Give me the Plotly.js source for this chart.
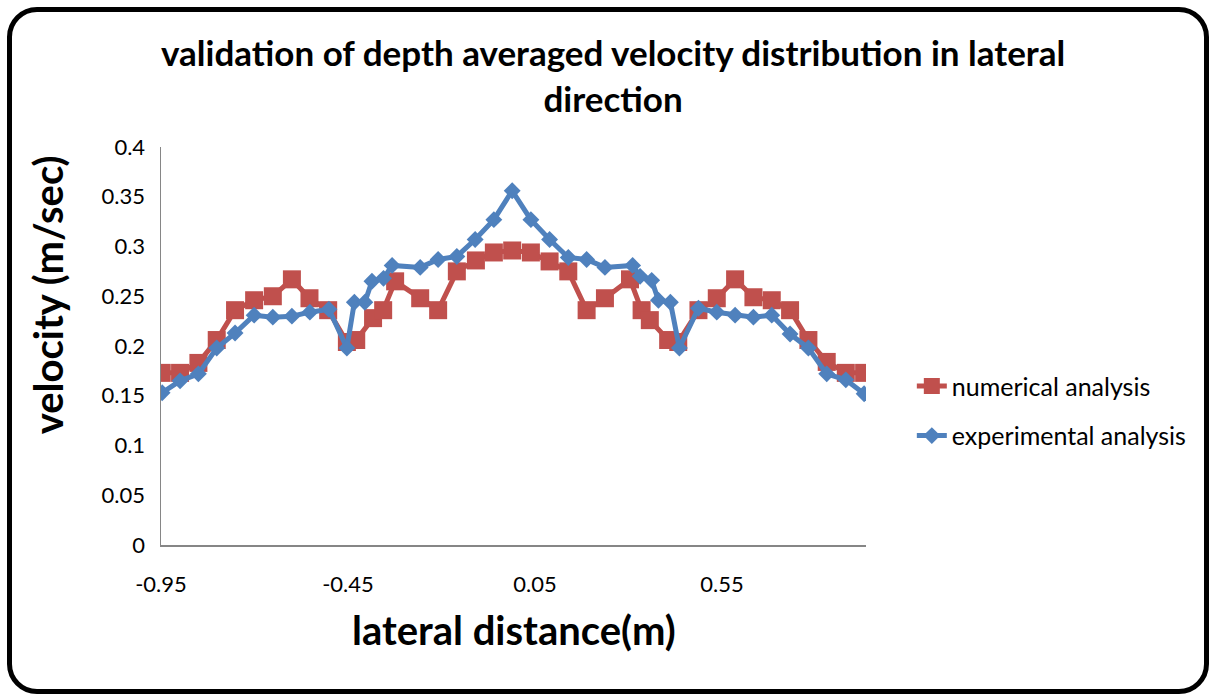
<!DOCTYPE html>
<html>
<head>
<meta charset="utf-8">
<script src="https://cdn.plot.ly/plotly-3.0.1.min.js"></script>
<style>
  html, body { margin:0; padding:0; background:#fff; }
  #chart { width:1214px; height:695px; position:absolute; left:0; top:0; }
  #frame { position:absolute; left:7px; top:7px; width:1192px; height:677px;
           border:5px solid #000; border-radius:30px; pointer-events:none; }
</style>
</head>
<body>
<div id="chart"></div>
<div id="frame"></div>
<script>
// Numerical analysis (red squares)
const numX = [-0.948, -0.899, -0.850, -0.801, -0.752, -0.701, -0.651, -0.600, -0.553, -0.503,
              -0.453, -0.428, -0.383, -0.356, -0.324, -0.257, -0.209, -0.159, -0.108, -0.060,
              -0.011, 0.039, 0.089, 0.139, 0.188, 0.237, 0.304, 0.335, 0.357, 0.406,
              0.433, 0.487, 0.536, 0.585, 0.634, 0.683, 0.732, 0.781, 0.830, 0.881, 0.930];
const numY = [0.173, 0.173, 0.183, 0.206, 0.236, 0.246, 0.250, 0.267, 0.248, 0.236,
              0.204, 0.206, 0.228, 0.236, 0.265, 0.248, 0.236, 0.275, 0.286, 0.294,
              0.296, 0.294, 0.285, 0.275, 0.236, 0.248, 0.267, 0.236, 0.226, 0.206,
              0.204, 0.236, 0.248, 0.267, 0.249, 0.246, 0.236, 0.206, 0.184, 0.173, 0.173];

// Experimental analysis (blue diamonds)
const expX = [-0.947, -0.899, -0.850, -0.801, -0.752, -0.701, -0.651, -0.600, -0.552, -0.501,
              -0.453, -0.433, -0.405, -0.386, -0.355, -0.332, -0.257, -0.209, -0.159, -0.110,
              -0.060, -0.011, 0.039, 0.089, 0.139, 0.188, 0.237, 0.311, 0.331, 0.362,
              0.380, 0.412, 0.436, 0.487, 0.536, 0.585, 0.634, 0.683, 0.732, 0.781,
              0.830, 0.881, 0.930];
const expY = [0.153, 0.165, 0.172, 0.198, 0.213, 0.231, 0.229, 0.230, 0.234, 0.237,
              0.198, 0.244, 0.244, 0.265, 0.268, 0.281, 0.279, 0.287, 0.290, 0.307,
              0.327, 0.356, 0.327, 0.307, 0.289, 0.287, 0.279, 0.281, 0.270, 0.266,
              0.246, 0.244, 0.198, 0.238, 0.234, 0.231, 0.229, 0.231, 0.212, 0.198,
              0.172, 0.166, 0.152];

const xTicks = [-0.95, -0.45, 0.05, 0.55];
const xTickText = ['-0.95', '-0.45', '0.05', '0.55'];
const yTicks = [0, 0.05, 0.1, 0.15, 0.2, 0.25, 0.3, 0.35, 0.4];
const yTickText = ['0', '0.05', '0.1', '0.15', '0.2', '0.25', '0.3', '0.35', '0.4'];

const FONT = 'Lato, "Open Sans", sans-serif';

const traces = [
  {
    x: numX, y: numY, type: 'scatter', mode: 'lines+markers',
    name: 'numerical analysis', legendgroup: 'a',
    line: { color: '#C0504D', width: 5 },
    marker: { symbol: 'square', size: 18, color: '#C0504D' }
  },
  {
    x: expX, y: expY, type: 'scatter', mode: 'lines+markers',
    name: 'experimental analysis', legendgroup: 'b',
    line: { color: '#4F81BD', width: 5 },
    marker: { symbol: 'diamond', size: 13, color: '#4F81BD' }
  }
];

const layout = {
  width: 1214, height: 695,
  paper_bgcolor: '#fff', plot_bgcolor: '#fff',
  margin: { l: 161, r: 348, t: 147, b: 150 },
  font: { family: FONT, color: '#000' },
  title: {
    text: '<b>validation of depth averaged velocity distribution in lateral<br>direction</b>',
    font: { family: FONT, size: 35, color: '#000' },
    x: 0.505, xanchor: 'center', y: 0.905, yanchor: 'top', yref: 'container'
  },
  xaxis: {
    range: [-0.95, 0.935], tickvals: xTicks, ticktext: xTickText,
    showgrid: false, zeroline: false, showline: true, linecolor: '#868686', linewidth: 1.5,
    ticks: 'outside', ticklen: 19, tickcolor: 'rgba(0,0,0,0)',
    tickfont: { family: FONT, size: 22, color: '#000' }
  },
  yaxis: {
    range: [0, 0.4], tickvals: yTicks, ticktext: yTickText,
    showgrid: false, zeroline: false, showline: true, linecolor: '#868686', linewidth: 1.5,
    ticks: 'outside', ticklen: 10, tickcolor: 'rgba(0,0,0,0)',
    tickfont: { family: FONT, size: 22, color: '#000' }
  },
  annotations: [
    { text: '<b>lateral distance(m)</b>', xref: 'paper', yref: 'paper', x: 0.5, y: -0.2136,
      xanchor: 'center', yanchor: 'middle', showarrow: false,
      font: { family: FONT, size: 40, color: '#000' } },
    { text: '<b>velocity (m/sec)</b>', xref: 'paper', yref: 'paper', x: -0.160, y: 0.628,
      xanchor: 'center', yanchor: 'middle', showarrow: false, textangle: -90,
      font: { family: FONT, size: 40, color: '#000' } }
  ],
  showlegend: true,
  legend: {
    x: 1.065, xanchor: 'left', y: 0.337, yanchor: 'middle',
    traceorder: 'grouped', tracegroupgap: 14,
    font: { family: FONT, size: 25, color: '#000' },
    bgcolor: 'rgba(0,0,0,0)', itemwidth: 30
  }
};

Plotly.newPlot('chart', traces, layout, { staticPlot: true, displayModeBar: false });
</script>
</body>
</html>
